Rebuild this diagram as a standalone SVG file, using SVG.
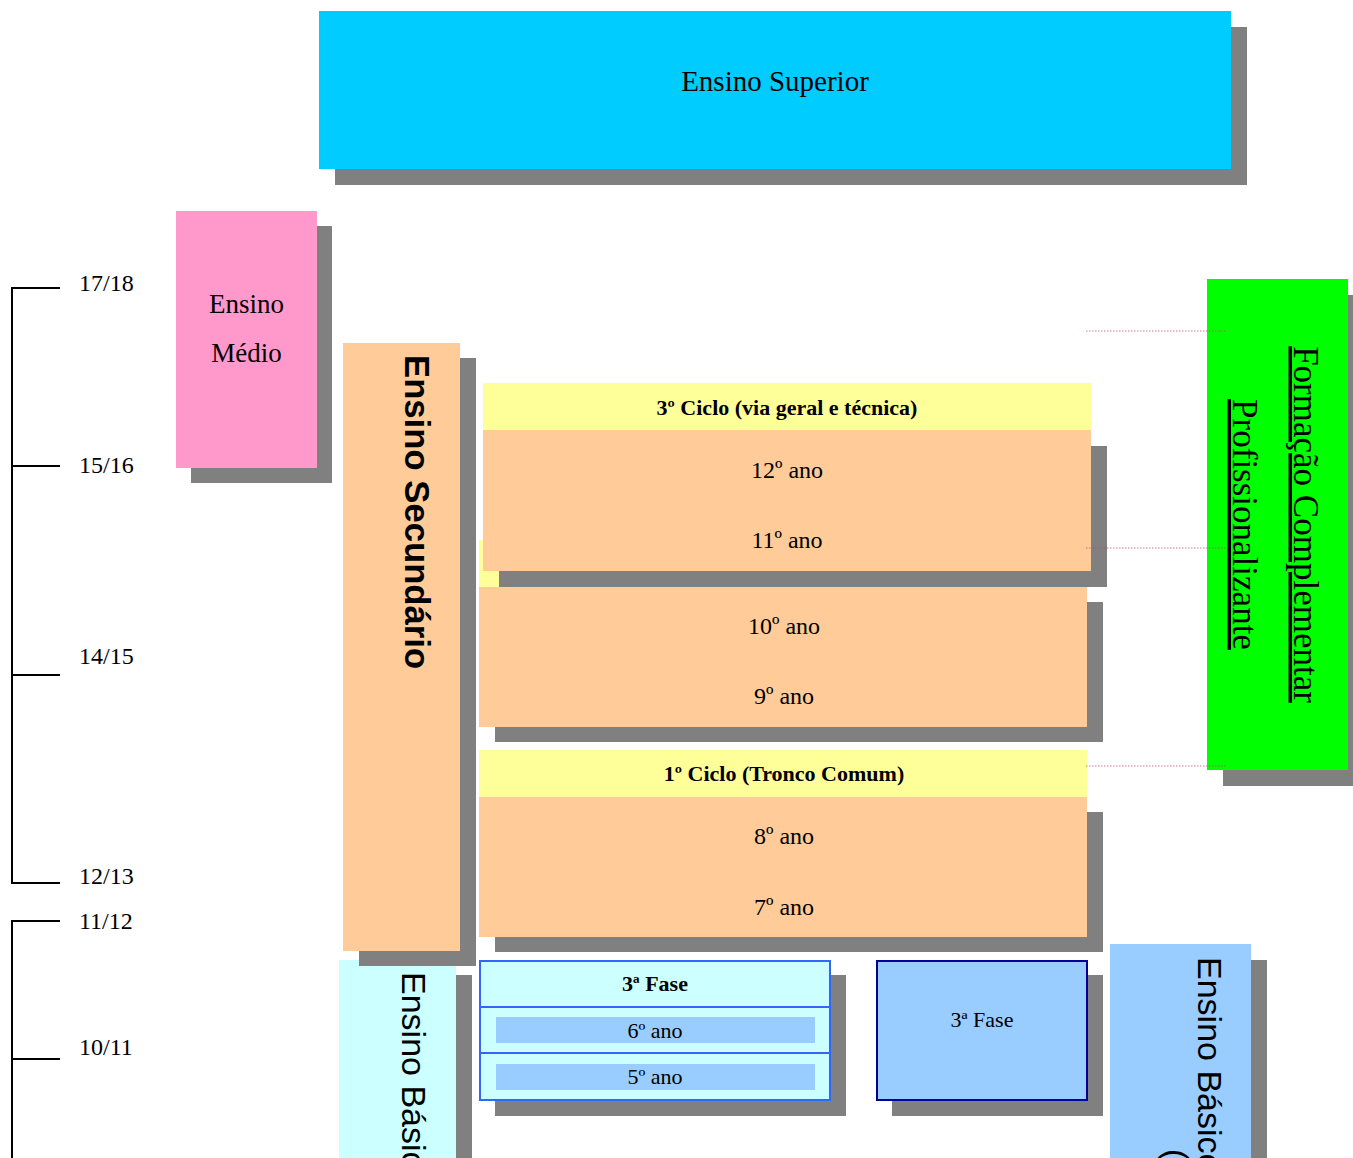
<svg xmlns="http://www.w3.org/2000/svg" width="1353" height="1158" viewBox="0 0 1353 1158">
<style>
.sh{fill:#808080}
.serif{font-family:"Liberation Serif","Times New Roman",serif;fill:#000}
.sans{font-family:"Liberation Sans",Arial,sans-serif;fill:#000}
.yr{font-size:24px;text-anchor:middle}
.hd{font-size:22px;font-weight:bold;text-anchor:middle}
.tl{font-size:24px}
.orange{fill:#FFCC99}
.yellow{fill:#FFFF99}
.tick{stroke:#000;stroke-width:2;fill:none}
.dot{stroke:#C04070;stroke-width:1.2;stroke-dasharray:1.5 1.5;opacity:0.7}
</style>
<rect width="1353" height="1158" fill="#fff"/>

<g id="timeline">
<path class="tick" d="M60 288H12V883H60M12 466H60M12 675H60"/>
<path class="tick" d="M60 921H12V1160M12 1059H60"/>
<text class="serif tl" x="79" y="291">17/18</text>
<text class="serif tl" x="79" y="473">15/16</text>
<text class="serif tl" x="79" y="664">14/15</text>
<text class="serif tl" x="79" y="884">12/13</text>
<text class="serif tl" x="79" y="929">11/12</text>
<text class="serif tl" x="79" y="1055">10/11</text>
</g>

<g id="ensino-superior">
<rect class="sh" x="335" y="27" width="912" height="158"/>
<rect x="319" y="11" width="912" height="158" fill="#00CCFF"/>
<text class="serif" x="775" y="91" font-size="29" text-anchor="middle">Ensino Superior</text>
</g>

<g id="ensino-medio">
<rect class="sh" x="191" y="226" width="141" height="257"/>
<rect x="176" y="211" width="141" height="257" fill="#FF99CC"/>
<text class="serif" x="246.5" y="313" font-size="27" text-anchor="middle">Ensino</text>
<text class="serif" x="246.5" y="362" font-size="27" text-anchor="middle">Médio</text>
</g>

<g id="ensino-basico-left">
<rect class="sh" x="355" y="975" width="117" height="200"/>
<rect x="339" y="960" width="117" height="200" fill="#CCFFFF"/>
</g>

<g id="ensino-secundario">
<rect class="sh" x="359" y="358" width="117" height="608"/>
<rect class="orange" x="343" y="343" width="117" height="608"/>
<text class="sans" transform="translate(405,355) rotate(90)" font-size="34.7" font-weight="bold">Ensino Secundário</text>
</g>

<g id="ensino-basico-left-label">
<text class="sans" transform="translate(402,972) rotate(90)" font-size="34">Ensino Básico</text>
</g>

<g id="ciclo2">
<rect class="sh" x="495" y="602" width="608" height="140"/>
<rect class="yellow" x="479" y="540" width="608" height="47"/>
<rect class="orange" x="479" y="587" width="608" height="140"/>
<text class="serif yr" x="784" y="634">10º ano</text>
<text class="serif yr" x="784" y="704">9º ano</text>
</g>

<g id="ciclo3">
<rect class="sh" x="499" y="446" width="608" height="141"/>
<rect class="yellow" x="483" y="383" width="608" height="47"/>
<rect class="orange" x="483" y="430" width="608" height="141"/>
<text class="serif hd" x="787" y="415">3º Ciclo (via geral e técnica)</text>
<text class="serif yr" x="787" y="478">12º ano</text>
<text class="serif yr" x="787" y="548">11º ano</text>
</g>

<g id="ciclo1">
<rect class="sh" x="495" y="812" width="608" height="140"/>
<rect class="yellow" x="479" y="750" width="608" height="47"/>
<rect class="orange" x="479" y="797" width="608" height="140"/>
<text class="serif hd" x="784" y="781">1º Ciclo (Tronco Comum)</text>
<text class="serif yr" x="784" y="844">8º ano</text>
<text class="serif yr" x="784" y="915">7º ano</text>
</g>

<g id="fase3-left">
<rect class="sh" x="495" y="975" width="351" height="141"/>
<rect x="480" y="961" width="350" height="139" fill="#CCFFFF" stroke="#3366FF" stroke-width="2"/>
<path d="M480 1007H830M480 1053H830" stroke="#3366FF" stroke-width="2"/>
<rect x="496" y="1017" width="319" height="26" fill="#99CCFF"/>
<rect x="496" y="1064" width="319" height="26" fill="#99CCFF"/>
<text class="serif hd" x="655" y="991">3ª Fase</text>
<text class="serif" x="655" y="1038" font-size="22" text-anchor="middle">6º ano</text>
<text class="serif" x="655" y="1084" font-size="22" text-anchor="middle">5º ano</text>
</g>

<g id="fase3-right">
<rect class="sh" x="892" y="975" width="211" height="141"/>
<rect x="877" y="961" width="210" height="139" fill="#99CCFF" stroke="#000099" stroke-width="2"/>
<text class="serif" x="982" y="1027" font-size="22" text-anchor="middle">3ª Fase</text>
</g>

<g id="ensino-basico-right">
<rect class="sh" x="1126" y="960" width="141" height="200"/>
<rect x="1110" y="944" width="141" height="216" fill="#99CCFF"/>
<text class="sans" transform="translate(1198,957) rotate(90)" font-size="34">Ensino Básico</text>
<text class="sans" transform="translate(1165,1149) rotate(90)" font-size="34">(</text>
</g>

<g id="formacao-complementar">
<rect class="sh" x="1223" y="295" width="141" height="491"/>
<rect x="1207" y="279" width="141" height="491" fill="#00FF00"/>
<text class="serif" transform="translate(1294,524.5) rotate(90)" font-size="35" text-anchor="middle" text-decoration="underline">Formação Complementar</text>
<text class="serif" transform="translate(1233,524.5) rotate(90)" font-size="35" text-anchor="middle" text-decoration="underline">Profissionalizante</text>
</g>

<g id="connectors">
<line class="dot" x1="1086" y1="331" x2="1226" y2="331"/>
<line class="dot" x1="1086" y1="548" x2="1226" y2="548"/>
<line class="dot" x1="1086" y1="766" x2="1226" y2="766"/>
</g>
</svg>
